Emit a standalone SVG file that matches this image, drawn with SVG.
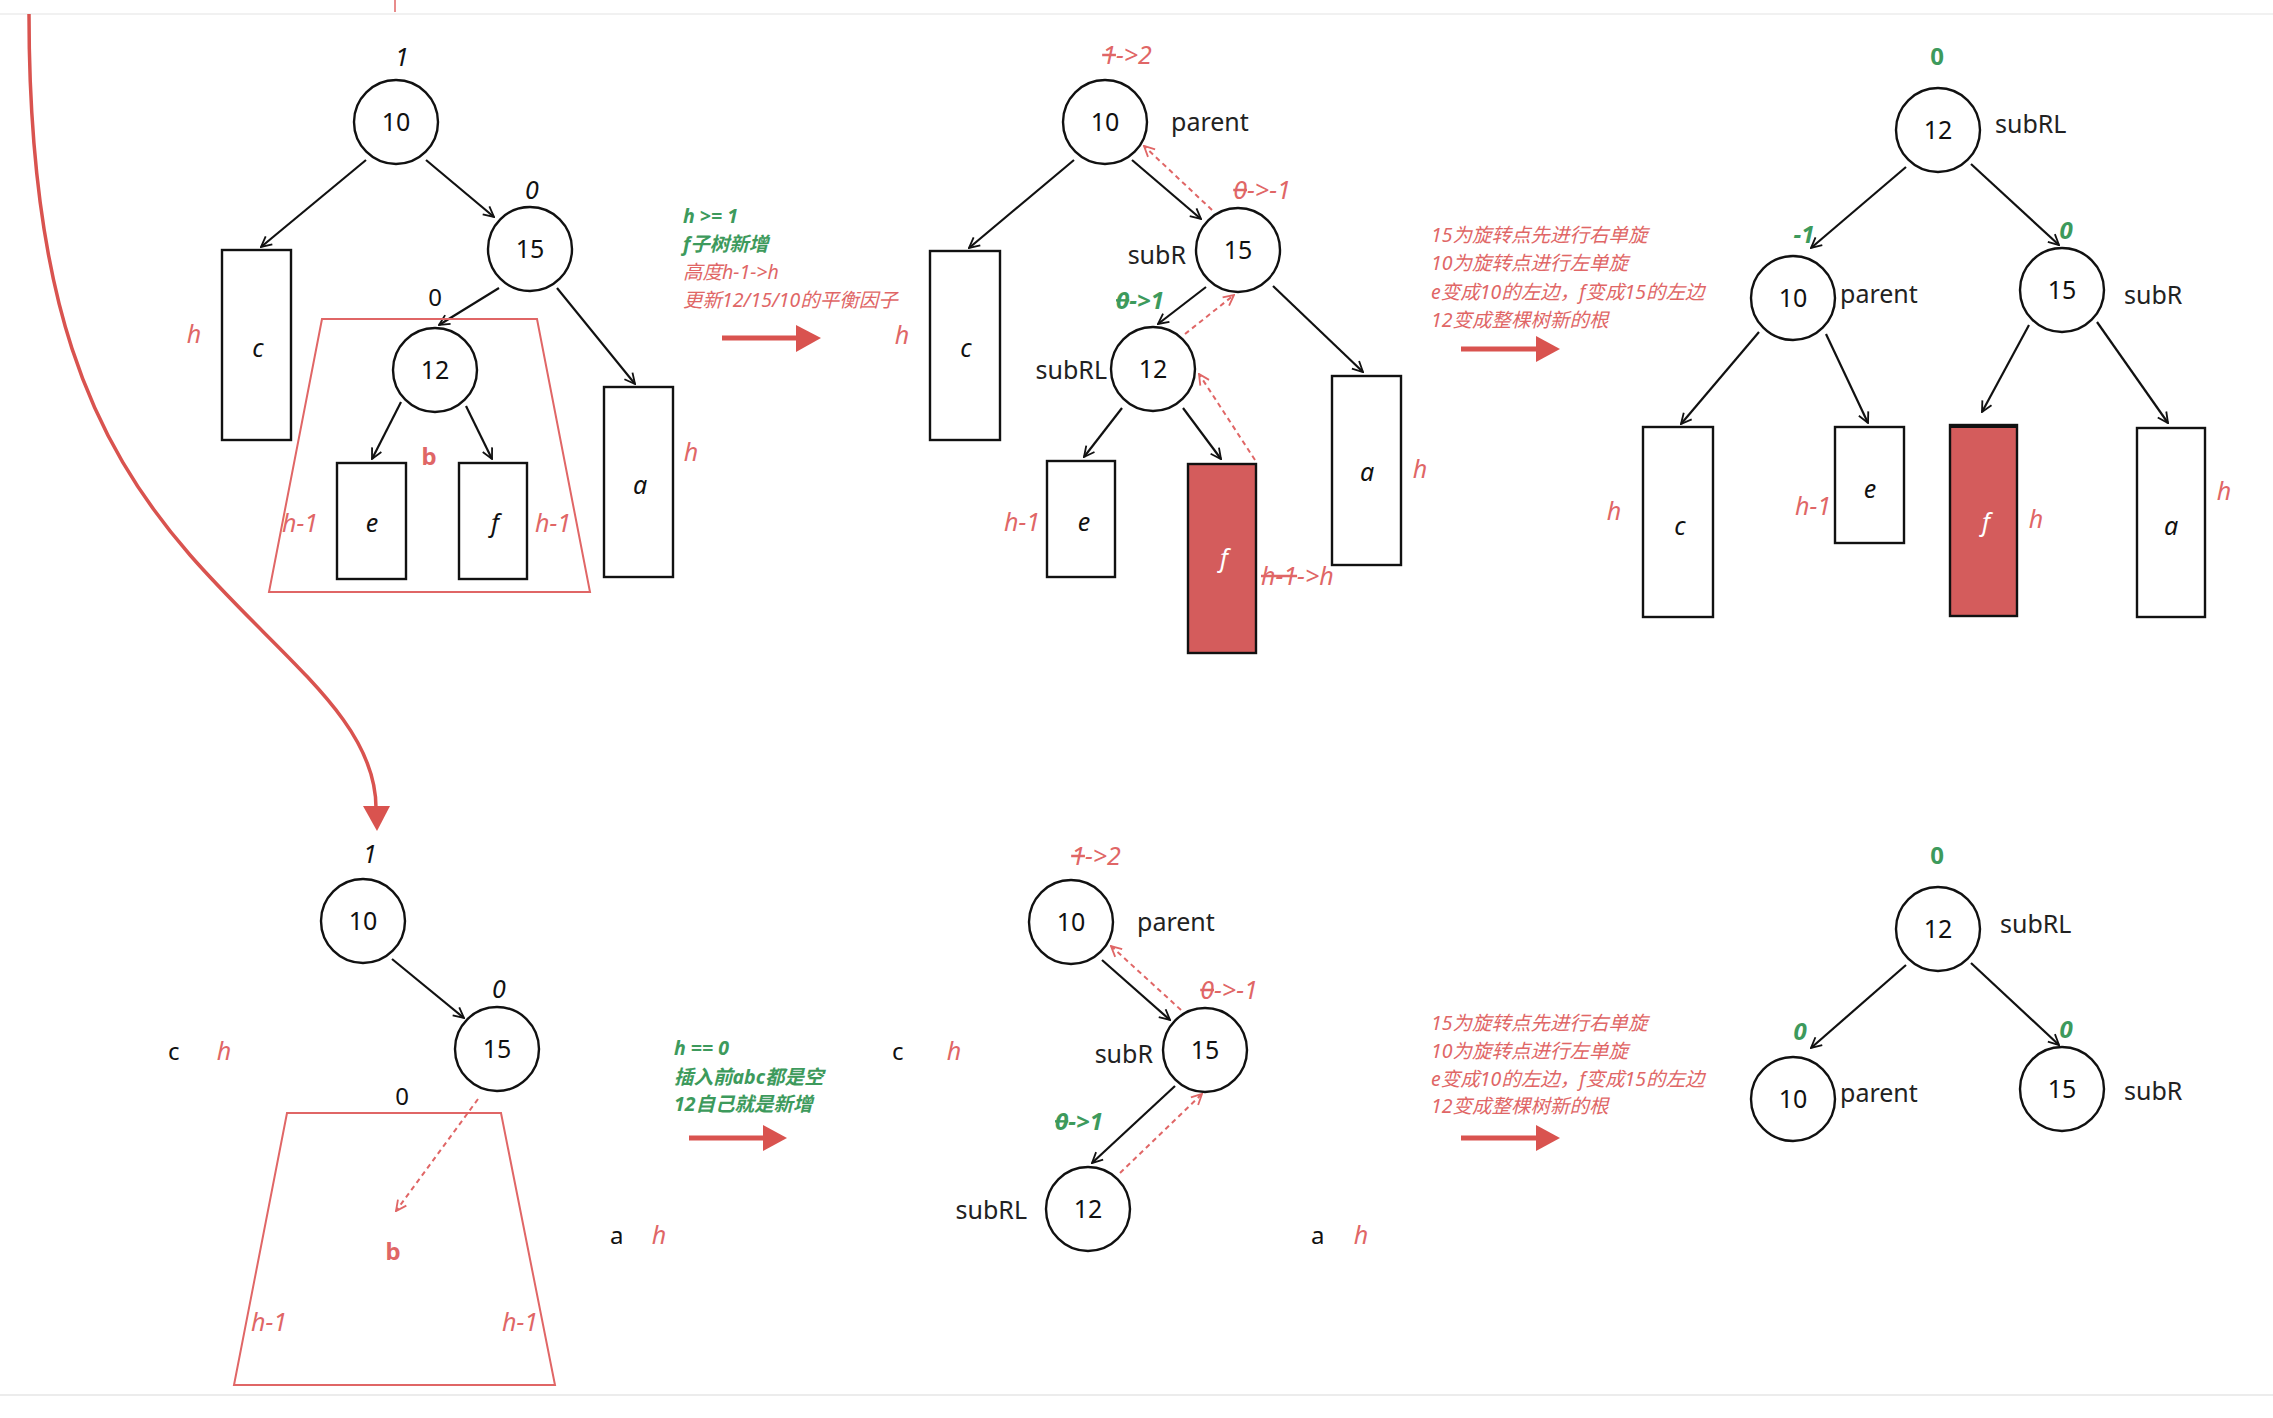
<svg xmlns="http://www.w3.org/2000/svg" width="2273" height="1418" viewBox="0 0 2273 1418">
<defs>
<marker id="ah" viewBox="0 0 10 10" refX="9" refY="5" markerWidth="13" markerHeight="13" orient="auto" markerUnits="userSpaceOnUse"><path d="M1,1 L9,5 L1,9" fill="none" stroke="#111" stroke-width="1.4"/></marker>
<marker id="ahr" viewBox="0 0 10 10" refX="9" refY="5" markerWidth="13" markerHeight="13" orient="auto" markerUnits="userSpaceOnUse"><path d="M1,1 L9,5 L1,9" fill="none" stroke="#e06666" stroke-width="1.4"/></marker>
</defs>
<style>
text{font-family:"Noto Sans","Noto Sans CJK SC",sans-serif;}
.node{fill:#fff;stroke:#111;stroke-width:2.4;}
.num{font-size:25px;fill:#111;text-anchor:middle;}
.lbl{font-size:25px;fill:#222;}
.box{fill:#fff;stroke:#111;stroke-width:2.4;}
.rbox{fill:#d45c5c;stroke:#111;stroke-width:2.4;}
.bl{font-size:25px;font-style:italic;fill:#111;text-anchor:middle;}
.rh{font-size:25px;font-style:italic;fill:#e06666;text-anchor:middle;}
.rhs{font-size:25px;font-style:italic;fill:#e06666;}
.gb{font-size:24px;font-weight:bold;fill:#3d9a5c;text-anchor:middle;}
.gbi{font-size:24px;font-weight:bold;font-style:italic;fill:#3d9a5c;text-anchor:middle;}
.bf{font-size:24px;fill:#111;text-anchor:middle;}
.bv{font-size:24px;font-weight:bold;fill:#e06666;text-anchor:middle;}
.ct{font-size:24px;fill:#111;}
.edge{stroke:#111;stroke-width:2.2;fill:none;marker-end:url(#ah);}
.dash{stroke:#e06666;stroke-width:2;fill:none;stroke-dasharray:5 4;marker-end:url(#ahr);}
.trap{fill:none;stroke:#e06666;stroke-width:2;}
.note-g{font-size:19.5px;font-style:italic;font-weight:bold;fill:#3d9a5c;}
.note-r{font-size:19.5px;font-style:italic;fill:#e06666;}
.big{fill:#d9534f;}
.strike{text-decoration:line-through;}
</style>
<rect width="2273" height="1418" fill="#fff"/>
<line x1="0" y1="14" x2="2273" y2="14" stroke="#ececec" stroke-width="1.5"/>
<line x1="0" y1="1395" x2="2273" y2="1395" stroke="#e6e6e6" stroke-width="1.5"/>
<line x1="395" y1="0" x2="395" y2="12" stroke="#e06666" stroke-width="1.5"/>

<g id="connectors">
<!-- panel A -->
<line class="edge" x1="366" y1="160" x2="261" y2="247"/>
<line class="edge" x1="426" y1="160" x2="494" y2="217"/>
<line class="edge" x1="499" y1="288" x2="439" y2="325"/>
<line class="edge" x1="557" y1="288" x2="635" y2="384"/>
<line class="edge" x1="401" y1="402" x2="372" y2="459"/>
<line class="edge" x1="466" y1="406" x2="492" y2="459"/>
<!-- panel C -->
<line class="edge" x1="1074" y1="160" x2="969" y2="248"/>
<line class="edge" x1="1132" y1="160" x2="1201" y2="219"/>
<line class="edge" x1="1206" y1="287" x2="1158" y2="324"/>
<line class="edge" x1="1273" y1="286" x2="1363" y2="372"/>
<line class="edge" x1="1122" y1="408" x2="1084" y2="457"/>
<line class="edge" x1="1183" y1="408" x2="1221" y2="459"/>
<line class="dash" x1="1212" y1="210" x2="1144" y2="146"/>
<line class="dash" x1="1185" y1="334" x2="1234" y2="295"/>
<line class="dash" x1="1255" y1="460" x2="1199" y2="374"/>
<!-- panel E -->
<line class="edge" x1="1906" y1="167" x2="1811" y2="248"/>
<line class="edge" x1="1971" y1="164" x2="2059" y2="245"/>
<line class="edge" x1="1759" y1="332" x2="1681" y2="424"/>
<line class="edge" x1="1826" y1="334" x2="1868" y2="423"/>
<line class="edge" x1="2029" y1="325" x2="1982" y2="412"/>
<line class="edge" x1="2097" y1="322" x2="2168" y2="423"/>
<!-- panel F -->
<line class="edge" x1="392" y1="959" x2="464" y2="1018"/>
<line class="dash" x1="478" y1="1099" x2="396" y2="1211"/>
<!-- panel H -->
<line class="edge" x1="1102" y1="960" x2="1170" y2="1020"/>
<line class="edge" x1="1175" y1="1086" x2="1092" y2="1163"/>
<line class="dash" x1="1181" y1="1010" x2="1111" y2="946"/>
<line class="dash" x1="1120" y1="1173" x2="1202" y2="1094"/>
<!-- panel J -->
<line class="edge" x1="1906" y1="965" x2="1811" y2="1048"/>
<line class="edge" x1="1971" y1="963" x2="2059" y2="1045"/>
<!-- big red arrows -->
<path d="M29,14 C29,300 90,440 190,555 C280,658 376,720 376,808" fill="none" stroke="#d9534f" stroke-width="3.5"/>
<polygon class="big" points="363,806 390,806 377,831"/>
<line x1="722" y1="338" x2="798" y2="338" stroke="#d9534f" stroke-width="5"/>
<polygon class="big" points="796,325 821,338 796,352"/>
<line x1="1461" y1="349" x2="1538" y2="349" stroke="#d9534f" stroke-width="5"/>
<polygon class="big" points="1536,336 1560,349 1536,362"/>
<line x1="689" y1="1138" x2="765" y2="1138" stroke="#d9534f" stroke-width="5"/>
<polygon class="big" points="763,1125 787,1138 763,1151"/>
<line x1="1461" y1="1138" x2="1538" y2="1138" stroke="#d9534f" stroke-width="5"/>
<polygon class="big" points="1536,1125 1560,1138 1536,1151"/>
</g>

<!-- Panel A -->
<g id="A-10"><circle class="node" cx="396" cy="122" r="42"/><text class="num" x="396" y="131">10</text><text class="bl" x="402" y="66">1</text></g>
<g id="A-15"><circle class="node" cx="530" cy="249" r="42"/><text class="num" x="530" y="258">15</text><text class="bl" x="532" y="199">0</text></g>
<g id="A-12"><circle class="node" cx="435" cy="370" r="42"/><text class="num" x="435" y="379">12</text><text class="bf" x="435" y="306">0</text></g>
<g id="A-b"><polygon class="trap" points="322,319 537,319 590,592 269,592"/><text class="bv" x="429" y="465">b</text><text class="rh" x="300" y="532">h-1</text><text class="rh" x="553" y="532">h-1</text></g>
<g id="A-c"><rect class="box" x="222" y="250" width="69" height="190"/><text class="bl" x="258" y="357">c</text><text class="rh" x="194" y="343">h</text></g>
<g id="A-e"><rect class="box" x="337" y="463" width="69" height="116"/><text class="bl" x="372" y="532">e</text></g>
<g id="A-f"><rect class="box" x="459" y="463" width="68" height="116"/><text class="bl" x="495" y="532">f</text></g>
<g id="A-a"><rect class="box" x="604" y="387" width="69" height="190"/><text class="bl" x="640" y="494">a</text><text class="rh" x="691" y="461">h</text></g>

<!-- Note B -->
<g id="note-B">
<text class="note-g" x="683" y="223">h &gt;= 1</text>
<text class="note-g" x="683" y="251">f子树新增</text>
<text class="note-r" x="683" y="279">高度h-1-&gt;h</text>
<text class="note-r" x="683" y="307">更新12/15/10的平衡因子</text>
</g>

<!-- Panel C -->
<g id="C-10"><circle class="node" cx="1105" cy="122" r="42"/><text class="num" x="1105" y="131">10</text><text class="lbl" x="1171" y="131">parent</text><text class="rh" x="1127" y="64"><tspan class="strike">1</tspan>-&gt;2</text></g>
<g id="C-15"><circle class="node" cx="1238" cy="250" r="42"/><text class="num" x="1238" y="259">15</text><text class="lbl" x="1186" y="264" text-anchor="end">subR</text><text class="rh" x="1262" y="199"><tspan class="strike">0</tspan>-&gt;-1</text></g>
<g id="C-12"><circle class="node" cx="1153" cy="369" r="42"/><text class="num" x="1153" y="378">12</text><text class="lbl" x="1107" y="379" text-anchor="end">subRL</text><text class="gbi" x="1140" y="309"><tspan class="strike">0</tspan>-&gt;1</text></g>
<g id="C-c"><rect class="box" x="930" y="251" width="70" height="189"/><text class="bl" x="966" y="357">c</text><text class="rh" x="902" y="344">h</text></g>
<g id="C-e"><rect class="box" x="1047" y="461" width="68" height="116"/><text class="bl" x="1084" y="531">e</text><text class="rh" x="1022" y="531">h-1</text></g>
<g id="C-f"><rect class="rbox" x="1188" y="464" width="68" height="189"/><text class="bl" x="1224" y="567" style="fill:#fff">f</text><text class="rhs" x="1261" y="585"><tspan class="strike">h-1</tspan>-&gt;h</text></g>
<g id="C-a"><rect class="box" x="1332" y="376" width="69" height="189"/><text class="bl" x="1367" y="481">a</text><text class="rh" x="1420" y="478">h</text></g>

<!-- Note D -->
<g id="note-D">
<text class="note-r" x="1431" y="242">15为旋转点先进行右单旋</text>
<text class="note-r" x="1431" y="270">10为旋转点进行左单旋</text>
<text class="note-r" x="1431" y="299">e变成10的左边，f变成15的左边</text>
<text class="note-r" x="1431" y="327">12变成整棵树新的根</text>
</g>

<!-- Panel E -->
<g id="E-12"><circle class="node" cx="1938" cy="130" r="42"/><text class="num" x="1938" y="139">12</text><text class="lbl" x="1995" y="133">subRL</text><text class="gb" x="1937" y="65">0</text></g>
<g id="E-10"><circle class="node" cx="1793" cy="298" r="42"/><text class="num" x="1793" y="307">10</text><text class="lbl" x="1840" y="303">parent</text><text class="gbi" x="1804" y="243">-1</text></g>
<g id="E-15"><circle class="node" cx="2062" cy="290" r="42"/><text class="num" x="2062" y="299">15</text><text class="lbl" x="2124" y="304">subR</text><text class="gbi" x="2066" y="239">0</text></g>
<g id="E-c"><rect class="box" x="1643" y="427" width="70" height="190"/><text class="bl" x="1680" y="535">c</text><text class="rh" x="1614" y="520">h</text></g>
<g id="E-e"><rect class="box" x="1835" y="427" width="69" height="116"/><text class="bl" x="1870" y="498">e</text><text class="rh" x="1813" y="515">h-1</text></g>
<g id="E-f"><rect class="rbox" x="1950" y="425" width="67" height="191"/><line x1="1950" y1="426" x2="2017" y2="426" stroke="#111" stroke-width="4"/><text class="bl" x="1986" y="531" style="fill:#fff">f</text><text class="rh" x="2036" y="528">h</text></g>
<g id="E-a"><rect class="box" x="2137" y="428" width="68" height="189"/><text class="bl" x="2171" y="535">a</text><text class="rh" x="2224" y="500">h</text></g>

<!-- Panel F -->
<g id="F-10"><circle class="node" cx="363" cy="921" r="42"/><text class="num" x="363" y="930">10</text><text class="bl" x="370" y="863">1</text></g>
<g id="F-15"><circle class="node" cx="497" cy="1049" r="42"/><text class="num" x="497" y="1058">15</text><text class="bl" x="499" y="998">0</text></g>
<g id="F-c"><text class="ct" x="168" y="1060">c</text><text class="rh" x="224" y="1060">h</text></g>
<g id="F-b"><polygon class="trap" points="287,1113 501,1113 555,1385 234,1385"/><text class="bf" x="402" y="1105">0</text><text class="bv" x="393" y="1260">b</text><text class="rh" x="269" y="1331">h-1</text><text class="rh" x="520" y="1331">h-1</text></g>
<g id="F-a"><text class="ct" x="610" y="1244">a</text><text class="rh" x="659" y="1244">h</text></g>

<!-- Note G -->
<g id="note-G">
<text class="note-g" x="674" y="1055">h == 0</text>
<text class="note-g" x="674" y="1084">插入前abc都是空</text>
<text class="note-g" x="674" y="1111">12自己就是新增</text>
</g>

<!-- Panel H -->
<g id="H-c"><text class="ct" x="892" y="1060">c</text><text class="rh" x="954" y="1060">h</text></g>
<g id="H-10"><circle class="node" cx="1071" cy="922" r="42"/><text class="num" x="1071" y="931">10</text><text class="lbl" x="1137" y="931">parent</text><text class="rh" x="1096" y="865"><tspan class="strike">1</tspan>-&gt;2</text></g>
<g id="H-15"><circle class="node" cx="1205" cy="1050" r="42"/><text class="num" x="1205" y="1059">15</text><text class="lbl" x="1153" y="1063" text-anchor="end">subR</text><text class="rh" x="1229" y="999"><tspan class="strike">0</tspan>-&gt;-1</text></g>
<g id="H-12"><circle class="node" cx="1088" cy="1209" r="42"/><text class="num" x="1088" y="1218">12</text><text class="lbl" x="1027" y="1219" text-anchor="end">subRL</text><text class="gbi" x="1079" y="1130"><tspan class="strike">0</tspan>-&gt;1</text></g>
<g id="H-a"><text class="ct" x="1311" y="1244">a</text><text class="rh" x="1361" y="1244">h</text></g>

<!-- Note I -->
<g id="note-I">
<text class="note-r" x="1431" y="1030">15为旋转点先进行右单旋</text>
<text class="note-r" x="1431" y="1058">10为旋转点进行左单旋</text>
<text class="note-r" x="1431" y="1086">e变成10的左边，f变成15的左边</text>
<text class="note-r" x="1431" y="1113">12变成整棵树新的根</text>
</g>

<!-- Panel J -->
<g id="J-12"><circle class="node" cx="1938" cy="929" r="42"/><text class="num" x="1938" y="938">12</text><text class="lbl" x="2000" y="933">subRL</text><text class="gb" x="1937" y="864">0</text></g>
<g id="J-10"><circle class="node" cx="1793" cy="1099" r="42"/><text class="num" x="1793" y="1108">10</text><text class="lbl" x="1840" y="1102">parent</text><text class="gbi" x="1800" y="1040">0</text></g>
<g id="J-15"><circle class="node" cx="2062" cy="1089" r="42"/><text class="num" x="2062" y="1098">15</text><text class="lbl" x="2124" y="1100">subR</text><text class="gbi" x="2066" y="1038">0</text></g>
</svg>
